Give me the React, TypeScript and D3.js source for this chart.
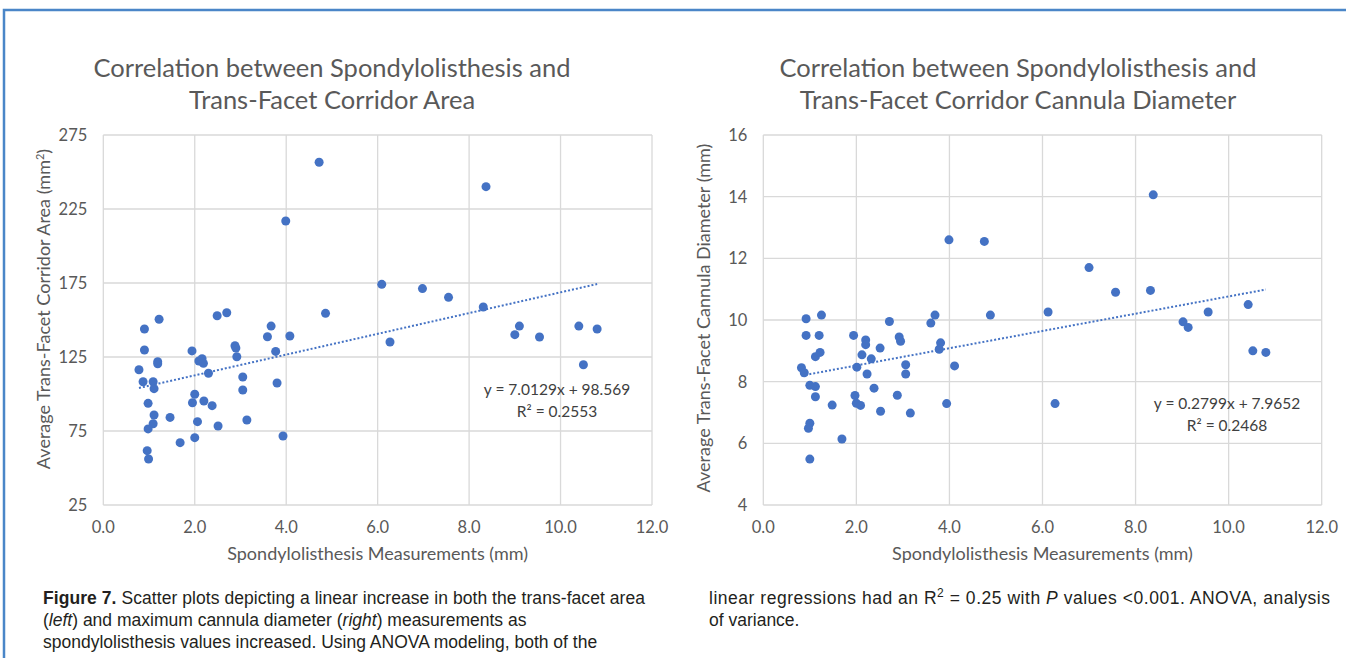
import React from 'react'
import * as d3 from 'd3'

// spondylolisthesis (mm) vs trans-facet corridor area (mm2)
const areaX = [1.22, 0.9, 0.9, 0.78, 0.87, 1.09, 1.11, 1.19, 1.19, 0.98, 1.11, 1.09, 0.98, 0.96, 0.99,
  1.46, 1.68, 1.94, 2.0, 1.95, 2.06, 2.0, 2.2, 2.38, 2.51, 2.09, 2.16, 2.19, 2.15, 2.3, 2.49, 2.7,
  2.88, 2.9, 2.92, 3.05, 3.05, 3.14, 3.59, 3.67, 3.77, 3.8, 3.93, 4.08, 4.86, 4.72, 3.99, 8.37,
  6.09, 6.98, 7.55, 8.31, 6.27, 9.1, 9.0, 9.54, 10.4, 10.8, 10.5]
const areaY = [150.5, 143.9, 129.7, 116.4, 108.3, 108.3, 103.6, 121.8, 120.4, 93.7, 85.8, 79.9, 76.4, 61.7, 56.1,
  84.2, 67.1, 129.1, 99.8, 94.1, 81.3, 70.5, 95.3, 92.1, 78.4, 122.3, 123.9, 120.7, 122, 114, 152.9, 154.9,
  132.6, 131, 125.2, 111.5, 102.7, 82.4, 138.7, 145.9, 128.8, 107.4, 71.6, 139.2, 154.5, 256.6, 216.9, 240.1,
  174.1, 171.2, 165.3, 158.8, 135.1, 145.9, 140.1, 138.5, 145.9, 143.9, 119.8]

// spondylolisthesis (mm) vs cannula diameter (mm)
const cannulaX = [0.92, 1.25, 0.92, 1.2, 1.12, 1.22, 0.82, 0.88, 1.0, 1.12, 1.12, 1.0, 0.97, 1.0, 1.48,
  1.69, 1.94, 1.97, 2.0, 2.09, 2.01, 2.12, 2.2, 2.2, 2.23, 2.32, 2.38, 2.51, 2.52, 2.71, 2.92, 2.95,
  2.88, 3.06, 3.06, 3.16, 3.6, 3.69, 3.81, 3.78, 4.11, 3.94, 4.88, 3.99, 4.75, 8.38, 7.0, 7.57, 8.32,
  6.12, 9.56, 10.42, 9.02, 9.13, 10.52, 10.8, 6.27]
const cannulaY = [10.04, 10.16, 9.5, 9.5, 8.81, 8.95, 8.45, 8.29, 7.88, 7.84, 7.51, 6.65, 6.49, 5.49, 7.24,
  6.14, 9.5, 7.55, 7.3, 7.23, 8.47, 8.87, 9.35, 9.2, 8.25, 8.74, 7.79, 9.09, 7.04, 9.95, 9.45, 9.31,
  7.56, 8.55, 8.25, 6.98, 9.9, 10.16, 9.26, 9.05, 8.51, 7.29, 10.16, 12.6, 12.55, 14.06, 11.7, 10.9, 10.96,
  10.26, 10.26, 10.5, 9.94, 9.76, 9.0, 8.95, 7.29]

const xTicks = [0, 2, 4, 6, 8, 10, 12]
const areaTicks = [25, 75, 125, 175, 225, 275]
const cannulaTicks = [4, 6, 8, 10, 12, 14, 16]

const BLUE = '#4472C4'
const GRID = '#d9d9d9'
const FONT = 'Lato, "Open Sans", sans-serif'

function Scatter(props: any) {
  const { left, right, xs, ys, yTicks, slope, intercept, eq, r2, eqAt, title, yLabel, yLabelAt, titleX } = props
  const top = 135, bottom = 505
  const x = d3.scaleLinear().domain([0, 12]).range([left, right])
  const y = d3.scaleLinear().domain([yTicks[0], yTicks[yTicks.length - 1]]).range([bottom, top])
  const [lo, hi] = d3.extent(xs) as [number, number]
  const trend = d3.line<number>().x(d => x(d)).y(d => y(slope * d + intercept))([lo, hi])

  return (
    <g fontFamily={FONT}>
      <text x={titleX} y={77} textAnchor="middle" fontSize={25.5} fill="#595959">{title[0]}</text>
      <text x={titleX} y={109} textAnchor="middle" fontSize={25.5} fill="#595959">{title[1]}</text>
      {yTicks.map((t: number) => (
        <g key={'y' + t}>
          <line x1={left} x2={right} y1={y(t)} y2={y(t)} stroke={GRID} strokeWidth={1.3} />
          <text x={left - 16} y={y(t) + 6} textAnchor="end" fontSize={16.5} fill="#595959">{t}</text>
        </g>
      ))}
      {xTicks.map(t => (
        <g key={'x' + t}>
          <line x1={x(t)} x2={x(t)} y1={top} y2={bottom} stroke={GRID} strokeWidth={1.3} />
          <text x={x(t)} y={bottom + 28} textAnchor="middle" fontSize={16.5} fill="#595959">{t.toFixed(1)}</text>
        </g>
      ))}
      <text x={(left + right) / 2} y={560} textAnchor="middle" fontSize={18} fill="#595959">
        Spondylolisthesis Measurements (mm)
      </text>
      <text transform={`translate(${yLabelAt[0]},${yLabelAt[1]}) rotate(-90)`} textAnchor="middle" fontSize={18} fill="#595959">
        {yLabel}
      </text>
      <path d={trend || ''} stroke={BLUE} strokeWidth={2} strokeDasharray="2,2" fill="none" />
      {xs.map((v: number, i: number) => (
        <circle key={i} cx={x(v)} cy={y(ys[i])} r={4.5} fill={BLUE} />
      ))}
      <text x={eqAt[0]} y={eqAt[1]} textAnchor="middle" fontSize={15.5} fill="#404040">{eq}</text>
      <text x={eqAt[0]} y={eqAt[1] + 22} textAnchor="middle" fontSize={15.5} fill="#404040">{r2}</text>
    </g>
  )
}

export default function App() {
  return (
    <svg width={1346} height={658} style={{ position: 'absolute', left: 0, top: 0, background: '#fff' }}>
      <rect x={4} y={10} width={1360} height={700} fill="none" stroke="#4a86c8" strokeWidth={2.5} />
      <Scatter left={103.3} right={652} xs={areaX} ys={areaY} yTicks={areaTicks}
        slope={7.0129} intercept={98.569} eq="y = 7.0129x + 98.569" r2="R² = 0.2553" eqAt={[557, 395]}
        title={['Correlation between Spondylolisthesis and', 'Trans-Facet Corridor Area']} titleX={332}
        yLabelAt={[50, 309]}
        yLabel={<tspan>Average Trans-Facet Corridor Area (mm<tspan dy={-6} fontSize={11}>2</tspan><tspan dy={6}>)</tspan></tspan>} />
      <Scatter left={763.3} right={1321.7} xs={cannulaX} ys={cannulaY} yTicks={cannulaTicks}
        slope={0.2799} intercept={7.9652} eq="y = 0.2799x + 7.9652" r2="R² = 0.2468" eqAt={[1227, 409]}
        title={['Correlation between Spondylolisthesis and', 'Trans-Facet Corridor Cannula Diameter']} titleX={1018}
        yLabelAt={[710, 318]}
        yLabel="Average Trans-Facet Cannula Diameter (mm)" />
      <g fontFamily='"Liberation Sans", Arial, sans-serif' fontSize={17.5} fill="#231f20">
        <text x={43} y={604} textLength={602} lengthAdjust="spacing"><tspan fontWeight="bold">Figure 7.</tspan>  Scatter plots depicting a linear increase in both the trans-facet area</text>
        <text x={43} y={626}>(<tspan fontStyle="italic">left</tspan>) and maximum cannula diameter (<tspan fontStyle="italic">right</tspan>) measurements as</text>
        <text x={43} y={648}>spondylolisthesis values increased. Using ANOVA modeling, both of the</text>
        <text x={709} y={604} textLength={621} lengthAdjust="spacing">linear regressions had an R<tspan dy={-7} fontSize={12}>2</tspan><tspan dy={7}> = 0.25 with </tspan><tspan fontStyle="italic">P</tspan> values &lt;0.001. ANOVA, analysis</text>
        <text x={709} y={626}>of variance.</text>
      </g>
    </svg>
  )
}
